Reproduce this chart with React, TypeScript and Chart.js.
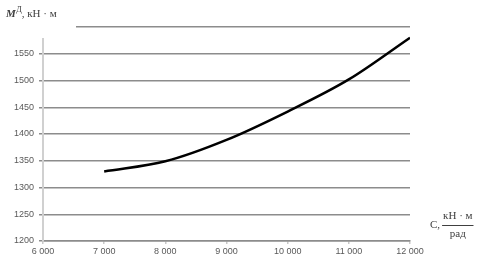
import React, { useEffect, useRef } from "react";
import { Chart, registerables } from "chart.js";

Chart.register(...registerables);

const stiffness = [7000, 8000, 9000, 10000, 11000, 12000];
const moment = [1330, 1349, 1389, 1442, 1502, 1580];
const yTicks = [1200, 1250, 1300, 1350, 1400, 1450, 1500, 1550, 1600];
const xTicks = [6000, 7000, 8000, 9000, 10000, 11000, 12000];
const yTitle = { main: "M", sup: "Д", rest: ", кН · м" };
const xTitle = { prefix: "C,", num: "кН · м", den: "рад" };

const fmt = (v: number) => {
  const s = String(Math.round(v));
  return s.length > 3 ? s.slice(0, s.length - 3) + " " + s.slice(-3) : s;
};

const titlesPlugin = {
  id: "titles",
  afterDraw(chart: any) {
    const ctx = chart.ctx;
    const area = chart.chartArea;
    ctx.save();
    // title box (covers the top-left corner like the original)
    ctx.fillStyle = "#ffffff";
    ctx.fillRect(0, 0, 76, 38);
    ctx.fillStyle = "#404040";
    ctx.textBaseline = "alphabetic";
    ctx.textAlign = "left";
    let x = 6;
    const y = 17;
    ctx.font = "italic bold 11px 'Liberation Serif'";
    ctx.fillText(yTitle.main, x, y);
    x += ctx.measureText(yTitle.main).width + 0.5;
    ctx.font = "8px 'Liberation Serif'";
    ctx.fillText(yTitle.sup, x, y - 5);
    x += ctx.measureText(yTitle.sup).width;
    ctx.font = "11px 'Liberation Serif'";
    ctx.fillText(yTitle.rest, x, y);

    // x title as fraction
    const bx = area.right + 20;
    const by = area.bottom - 17;
    ctx.font = "11px 'Liberation Serif'";
    ctx.textBaseline = "middle";
    ctx.fillText(xTitle.prefix, bx, by + 1);
    const px = bx + ctx.measureText(xTitle.prefix).width + 2;
    const w = ctx.measureText(xTitle.num).width + 2;
    ctx.textAlign = "center";
    ctx.fillText(xTitle.num, px + w / 2, by - 8);
    ctx.fillText(xTitle.den, px + w / 2, by + 10);
    ctx.strokeStyle = "#404040";
    ctx.lineWidth = 1;
    ctx.beginPath();
    ctx.moveTo(px, by + 1.5);
    ctx.lineTo(px + w, by + 1.5);
    ctx.stroke();
    ctx.restore();
  },
};

export default function App() {
  const ref = useRef<HTMLCanvasElement>(null);
  useEffect(() => {
    document.body.style.margin = "0";
    const chart = new Chart(ref.current!, {
      type: "line",
      data: {
        datasets: [
          {
            data: stiffness.map((s, i) => ({ x: s, y: moment[i] })),
            borderColor: "#000000",
            borderWidth: 2.5,
            pointRadius: 0,
            cubicInterpolationMode: "monotone",
            fill: false,
          },
        ],
      },
      options: {
        animation: false,
        responsive: false,
        layout: { padding: { top: 27, right: 73, left: 0, bottom: 0 } },
        plugins: { legend: { display: false }, tooltip: { enabled: false } },
        scales: {
          x: {
            type: "linear",
            min: xTicks[0],
            max: xTicks[xTicks.length - 1],
            afterBuildTicks: (s: any) => {
              s.ticks = xTicks.map((v) => ({ value: v }));
            },
            afterFit: (s: any) => {
              s.height = 32;
            },
            grid: {
              drawOnChartArea: false,
              drawTicks: true,
              tickLength: 3,
              color: "#c8c8c8",
              lineWidth: 1.5,
            },
            border: { display: true, color: "#8c8c8c", width: 1.5 },
            ticks: {
              callback: (v: any) => fmt(Number(v)),
              color: "#595959",
              font: { family: "'Liberation Sans'", size: 9 },
              padding: 2,
              maxRotation: 0,
            },
          },
          y: {
            type: "linear",
            min: yTicks[0],
            max: yTicks[yTicks.length - 1],
            afterBuildTicks: (s: any) => {
              s.ticks = yTicks.map((v) => ({ value: v }));
            },
            afterFit: (s: any) => {
              s.width = 43;
            },
            grid: {
              color: "#8c8c8c",
              lineWidth: 1.5,
              tickLength: 4,
            },
            border: { display: true, color: "#d0d0d0", width: 2 },
            ticks: {
              callback: (v: any) => (Number(v) === 1600 ? "" : String(v)),
              color: "#595959",
              font: { family: "'Liberation Sans'", size: 9 },
              padding: 5,
            },
          },
        },
      },
      plugins: [titlesPlugin],
    } as any);
    return () => chart.destroy();
  }, []);
  return (
    <div style={{ width: 483, height: 273 }}>
      <canvas ref={ref} width={483} height={273} style={{ display: "block" }} />
    </div>
  );
}
